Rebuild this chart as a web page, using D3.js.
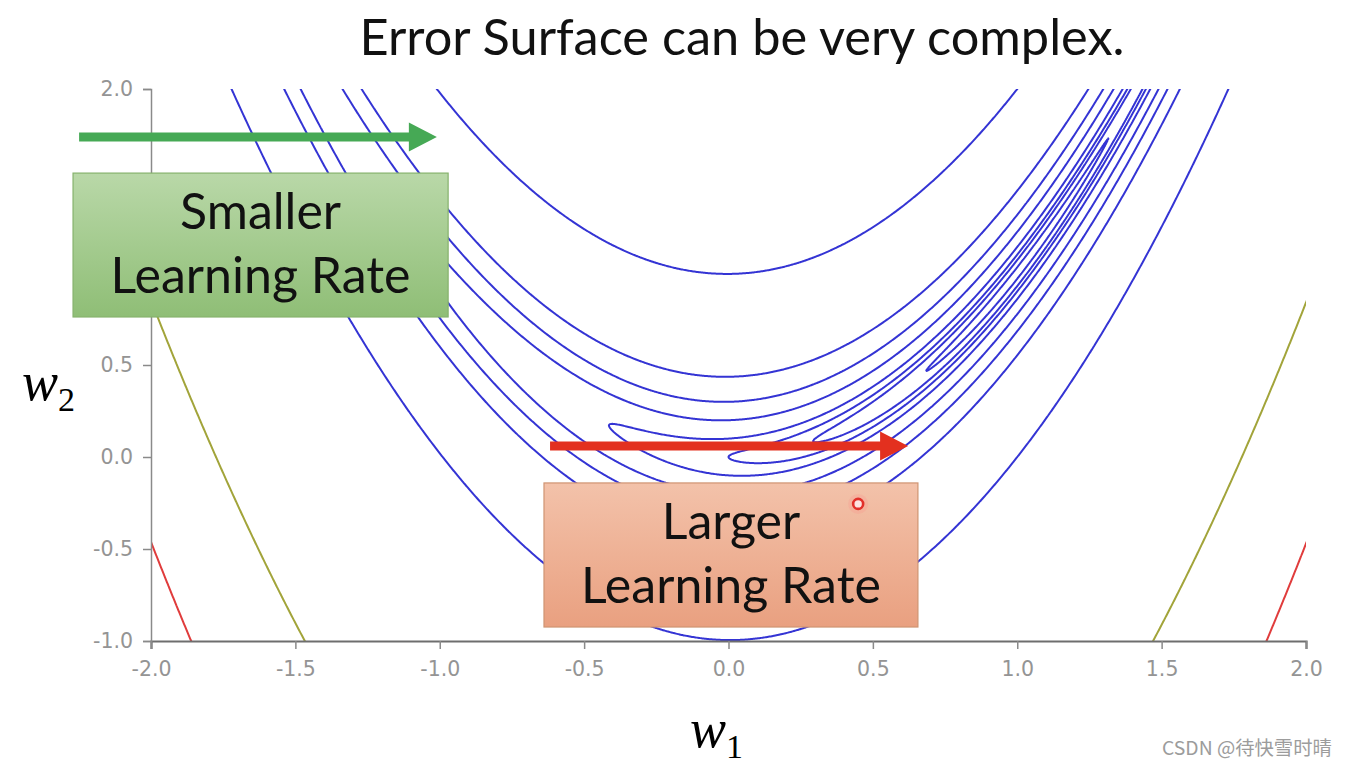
<!DOCTYPE html>
<html><head><meta charset="utf-8">
<script src="https://cdn.jsdelivr.net/npm/d3@7"></script>
<style>body{margin:0;background:#fff;} svg{display:block}</style>
</head><body>
<svg id="chart" width="1346" height="768"></svg>
<script>
// Error surface (Rosenbrock-type): E(w1,w2) = (a - w1)^2 + b*(w2 - w1^2)^2
const surfaceA = 1, surfaceB = 100;
const contourLevels = [0.1, 0.5, 1, 2, 5, 10, 20, 100, 1000, 2000];
const levelColors   = ['#3434d4','#3434d4','#3434d4','#3434d4','#3434d4','#3434d4','#3434d4','#3434d4','#a2a43a','#e03c3c'];
const xTicks = [-2, -1.5, -1, -0.5, 0, 0.5, 1, 1.5, 2];
const yTicks = [-1, -0.5, 0, 0.5, 1, 1.5, 2];
const xDomain = [-2, 2];
const yDomain = [-1, 2];
const titleText = 'Error Surface can be very complex.';
const boxLabels = [['Smaller', 'Learning Rate'], ['Larger', 'Learning Rate']];
const markedPoint = [0.449, -0.255];

const svg = d3.select('#chart');
const x = d3.scaleLinear().domain(xDomain).range([151, 1306]);
const y = d3.scaleLinear().domain(yDomain).range([641, 89]);

function E(w1, w2) { return (surfaceA - w1) ** 2 + surfaceB * (w2 - w1 * w1) ** 2; }

// sample grid slightly larger than the visible domain, then clip
const gx0 = -2.1, gx1 = 2.1, gy0 = -1.1, gy1 = 2.1;
const nx = 1050, ny = 800;
const dx = (gx1 - gx0) / (nx - 1), dy = (gy1 - gy0) / (ny - 1);
const values = new Float64Array(nx * ny);
for (let j = 0; j < ny; j++) {
  const w2 = gy1 - j * dy;
  for (let i = 0; i < nx; i++) values[j * nx + i] = E(gx0 + i * dx, w2);
}
const contours = d3.contours().size([nx, ny]).thresholds(contourLevels)(values);
const proj = d3.geoTransform({
  point(gx, gy) { this.stream.point(x(gx0 + (gx - 0.5) * dx), y(gy1 - (gy - 0.5) * dy)); }
});
const path = d3.geoPath(proj);

const defs = svg.append('defs');
defs.append('clipPath').attr('id', 'plotclip').append('rect')
  .attr('x', x(xDomain[0])).attr('y', y(yDomain[1]))
  .attr('width', x(xDomain[1]) - x(xDomain[0])).attr('height', y(yDomain[0]) - y(yDomain[1]));

svg.append('g').attr('clip-path', 'url(#plotclip)')
  .selectAll('path').data(contours).join('path')
  .attr('d', path)
  .attr('fill', 'none')
  .attr('stroke', d => levelColors[contourLevels.indexOf(d.value)])
  .attr('stroke-width', 2)
  .attr('stroke-linejoin', 'round');

// axes
const fmt = d => d.toFixed(1);
const xAxis = svg.append('g').attr('transform', `translate(0,${y(yDomain[0])})`)
  .call(d3.axisBottom(x).tickValues(xTicks).tickFormat(fmt).tickSize(8).tickSizeOuter(8).tickPadding(12));
const yAxis = svg.append('g').attr('transform', `translate(${x(xDomain[0])},0)`)
  .call(d3.axisLeft(y).tickValues(yTicks).tickFormat(fmt).tickSize(8).tickSizeOuter(8).tickPadding(10));
[xAxis, yAxis].forEach(a => {
  a.selectAll('text').attr('font-family', 'DejaVu Sans').attr('font-size', 20.5).attr('fill', '#949494');
  a.selectAll('line').attr('stroke', '#8a8a8a').attr('stroke-width', 1.5);
  a.select('.domain').attr('stroke', '#8a8a8a').attr('stroke-width', 1.5);
});
xAxis.select('.domain').attr('stroke', '#6e6e6e').attr('stroke-width', 2.2);

function fitText(sel, width) {
  const w = sel.node().getComputedTextLength();
  const fs = parseFloat(sel.attr('font-size'));
  sel.attr('font-size', fs * width / w);
  return fs * width / w;
}

// title
const title = svg.append('text').attr('x', 742).attr('y', 55).attr('text-anchor', 'middle')
  .attr('font-family', 'Lato, "Open Sans", sans-serif').attr('font-size', 44).attr('fill', '#111')
  .text(titleText);
fitText(title, 765);

// arrows
function arrow(xa, xb, yv, color) {
  const X0 = x(xa), X1 = x(xb), Y = y(yv), t = 4.5, hl = 28, hh = 14.5;
  svg.append('path')
    .attr('d', `M${X0},${Y - t}L${X1 - hl},${Y - t}L${X1 - hl},${Y - hh}L${X1},${Y}L${X1 - hl},${Y + hh}L${X1 - hl},${Y + t}L${X0},${Y + t}Z`)
    .attr('fill', color);
}
arrow(-2.249, -1.01, 1.739, '#46a955');
arrow(-0.618, 0.622, 0.060, '#e3301f');

// boxes
const grads = [['gGreen', '#b9d8a8', '#8fbe76'], ['gRed', '#f3c2aa', '#e9a080']];
grads.forEach(g => {
  const lg = defs.append('linearGradient').attr('id', g[0]).attr('x1', 0).attr('y1', 0).attr('x2', 0).attr('y2', 1);
  lg.append('stop').attr('offset', '0%').attr('stop-color', g[1]);
  lg.append('stop').attr('offset', '100%').attr('stop-color', g[2]);
});
function box(xa, xb, ya, yb, fill, stroke, lines) {
  const X0 = x(xa), X1 = x(xb), Y0 = y(ya), Y1 = y(yb);
  // tick labels fully covered by this overlay box are not visible in the reference
  yAxis.selectAll('.tick').filter(d => y(d) - 9 >= Y0 - 2 && y(d) + 9 <= Y1 + 2 && x(xDomain[0]) - 60 >= X0)
    .select('text').style('display', 'none');
  svg.append('rect').attr('x', X0).attr('y', Y0).attr('width', X1 - X0).attr('height', Y1 - Y0)
    .attr('fill', `url(#${fill})`).attr('stroke', stroke).attr('stroke-width', 1.2);
  const cx = (X0 + X1) / 2;
  const t2 = svg.append('text').attr('x', cx).attr('y', Y0 + 120).attr('text-anchor', 'middle')
    .attr('font-family', 'Lato, "Open Sans", sans-serif').attr('font-size', 50).attr('fill', '#111').text(lines[1]);
  const fs = fitText(t2, 300);
  svg.append('text').attr('x', cx).attr('y', Y0 + 56).attr('text-anchor', 'middle')
    .attr('font-family', 'Lato, "Open Sans", sans-serif').attr('font-size', fs).attr('fill', '#111').text(lines[0]);
}
box(-2.270, -0.971, 1.543, 0.761, 'gGreen', '#86b26c', boxLabels[0]);
box(-0.639, 0.656, -0.141, -0.924, 'gRed', '#cf9472', boxLabels[1]);

// marked point
svg.append('circle').attr('cx', x(markedPoint[0])).attr('cy', y(markedPoint[1])).attr('r', 10)
  .attr('fill', '#ff8080').attr('opacity', 0.18);
svg.append('circle').attr('cx', x(markedPoint[0])).attr('cy', y(markedPoint[1])).attr('r', 5)
  .attr('fill', '#fde3e0').attr('stroke', '#e2302a').attr('stroke-width', 2.6);

// axis labels  w1, w2
function mathLabel(px, py, sub) {
  const t = svg.append('text').attr('x', px).attr('y', py).attr('font-family', '"Liberation Serif", serif');
  t.append('tspan').attr('font-style', 'italic').attr('font-size', 54).text('w');
  t.append('tspan').attr('font-size', 34).attr('dy', 11).text(sub);
}
mathLabel(22, 400, '2');
mathLabel(690, 747, '1');

// watermark
const wm = svg.append('text').attr('x', 1162).attr('y', 755)
  .attr('font-family', '"Noto Sans CJK SC", sans-serif').attr('font-size', 17).attr('fill', '#9c9c9c')
  .text('CSDN @待快雪时晴');
fitText(wm, 170);
</script>
</body></html>
